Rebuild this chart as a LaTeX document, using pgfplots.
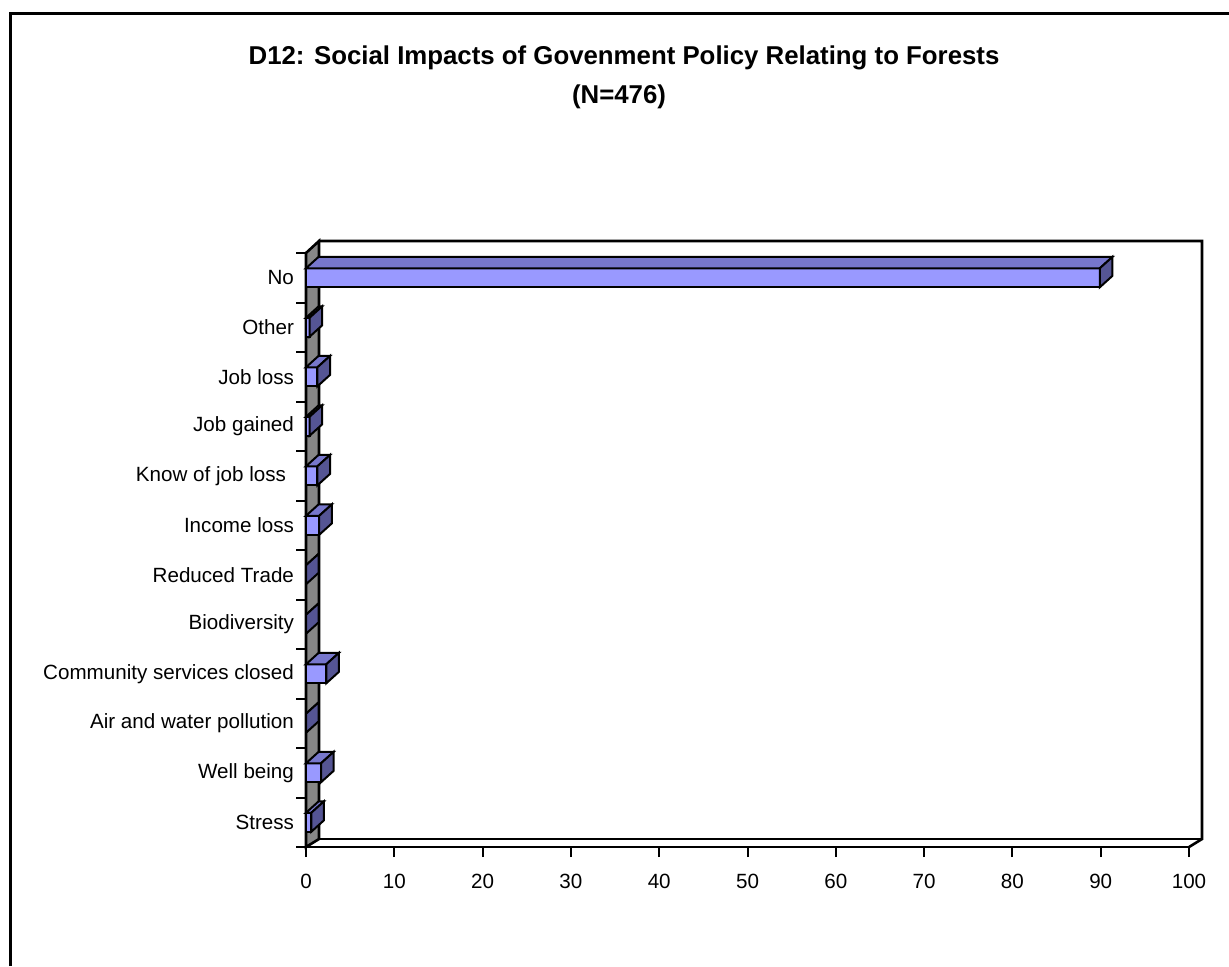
\documentclass[border=0pt]{standalone}
\usepackage{fontspec}
\setmainfont{Liberation Sans}
\usepackage{pgfplots}
\pgfplotsset{compat=1.18}
\usepackage{pgfplotstable}

\definecolor{barfront}{HTML}{9999FF}
\definecolor{bartop}{HTML}{7777CC}
\definecolor{barside}{HTML}{555594}
\definecolor{wallgray}{HTML}{878787}

% share of respondents (%) per reported impact, N=476
\pgfplotstableread{
y v
0 0.6
1 1.7
2 0
3 2.3
4 0
5 0
6 1.5
7 1.3
8 0.4
9 1.3
10 0.4
11 89.9
}\impacts

% top and side faces of a bar; the mark sits at the bar's far end,
% \barlen is the bar's length in pt
\pgfdeclareplotmark{cap3d}{%
  \pgfsetlinewidth{1pt}%
  \pgfsetstrokecolor{black}%
  \pgfsetfillcolor{bartop}%
  \pgfpathmoveto{\pgfpoint{-\barlen pt}{4.75pt}}%
  \pgfpathlineto{\pgfpoint{0pt}{4.75pt}}%
  \pgfpathlineto{\pgfpoint{6.3pt}{10.45pt}}%
  \pgfpathlineto{\pgfpoint{6.3pt-\barlen pt}{10.45pt}}%
  \pgfpathclose
  \pgfusepath{fill,stroke}%
  \pgfsetfillcolor{barside}%
  \pgfpathmoveto{\pgfpoint{0pt}{-4.75pt}}%
  \pgfpathlineto{\pgfpoint{0pt}{4.75pt}}%
  \pgfpathlineto{\pgfpoint{6.3pt}{10.45pt}}%
  \pgfpathlineto{\pgfpoint{6.3pt}{0.95pt}}%
  \pgfpathclose
  \pgfusepath{fill,stroke}%
}

\begin{document}
\begin{tikzpicture}
\useasboundingbox (0,0) rectangle (614.5pt,-483pt);

% outer frame
\draw[line width=1.5pt] (5pt,-483pt) -- (5pt,-6.5pt) -- (614.5pt,-6.5pt);

\node[anchor=base, font=\bfseries\fontsize{12.9}{15}\selectfont] at (312pt,-32pt)
  {D12: Social Impacts of Govenment Policy Relating to Forests};
\node[anchor=base, font=\bfseries\fontsize{12.9}{15}\selectfont] at (309.5pt,-51.5pt) {(N=476)};

\begin{axis}[
  at={(153pt,-423.5pt)}, anchor=south west,
  scale only axis, width=441.5pt, height=297pt,
  xmin=0, xmax=100, ymin=-0.5, ymax=11.5,
  axis x line*=bottom, axis y line*=left,
  axis line style={-, line width=1.3pt},
  xtick={0,10,...,100},
  ytick={0,...,11},
  yticklabels={Stress, Well being, Air and water pollution, Community services closed,
    Biodiversity, Reduced Trade, Income loss, Know of job loss\kern4pt, Job gained,
    Job loss, Other, No},
  minor ytick={-0.5,0.5,...,11.5},
  major y tick style={draw=none},
  minor y tick style={line width=1pt, black},
  major x tick style={line width=1pt, black},
  tick align=outside,
  major tick length=5pt, minor tick length=5pt,
  ticklabel style={font=\fontsize{10.3}{12}\selectfont},
  xticklabel style={yshift=-5pt},
  yticklabel style={xshift=2.5pt},
  /pgf/number format/assume math mode=true,
  clip=false,
]
% back wall and floor
\draw[line width=1.3pt]
  ([shift={(6.5pt,6pt)}]axis cs:0,11.5) -- ([shift={(6.5pt,6pt)}]axis cs:100,11.5)
  -- ([shift={(6.5pt,4pt)}]axis cs:100,-0.5) -- (axis cs:100,-0.5);
\draw[line width=1.3pt]
  ([shift={(6.5pt,4pt)}]axis cs:0,-0.5) -- ([shift={(6.5pt,4pt)}]axis cs:100,-0.5);
% side wall
\filldraw[fill=wallgray, line width=1.3pt]
  (axis cs:0,-0.5) -- (axis cs:0,11.5) -- ++(6.5pt,6pt)
  -- ([shift={(6.5pt,4pt)}]axis cs:0,-0.5) -- cycle;

% front faces
\addplot[xbar, bar width=9.5pt, fill=barfront, draw=black, line width=1pt]
  table[x=v, y=y] {\impacts};
% top and side faces
\addplot[scatter, only marks, mark=cap3d,
  visualization depends on={\thisrow{v}*4.415 \as \barlen}]
  table[x=v, y=y] {\impacts};
\end{axis}
\end{tikzpicture}
\end{document}
